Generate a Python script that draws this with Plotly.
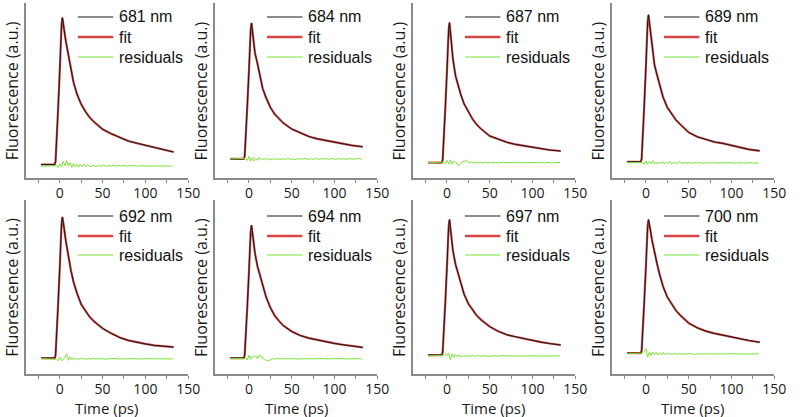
import plotly.graph_objects as go

# ---------------- data (peak-normalised) ----------------
labels = ["681 nm", "684 nm", "687 nm", "689 nm", "692 nm", "694 nm", "697 nm", "700 nm"]
legend_names = ["fit", "residuals"]

time_fit = [-22, -15, -10, -6, -5, -4, -2, 0, 1, 2, 3, 4, 5, 7, 10, 13, 16, 20, 25, 30,
            35, 40, 50, 60, 70, 80, 90, 100, 110, 120, 133]

fit_681 = [0, 0, 0, 0, 0.02, 0.12, 0.38, 0.65, 0.82, 0.95, 1.0, 0.97, 0.92, 0.84, 0.74, 0.64, 0.56, 0.48, 0.41, 0.36,
           0.32, 0.29, 0.24, 0.21, 0.185, 0.16, 0.145, 0.13, 0.115, 0.10, 0.085]
fit_684 = [0, 0, 0, 0, 0.02, 0.12, 0.38, 0.65, 0.82, 0.95, 1.0, 0.95, 0.88, 0.78, 0.70, 0.60, 0.52, 0.45, 0.38, 0.33,
           0.295, 0.265, 0.22, 0.19, 0.165, 0.148, 0.135, 0.122, 0.11, 0.10, 0.09]
fit_687 = [0, 0, 0, 0, 0.02, 0.12, 0.38, 0.65, 0.82, 0.95, 1.0, 0.94, 0.86, 0.74, 0.62, 0.55, 0.49, 0.42, 0.36, 0.31,
           0.27, 0.24, 0.19, 0.165, 0.145, 0.13, 0.12, 0.11, 0.10, 0.09, 0.083]
fit_689 = [0, 0, 0, 0, 0.02, 0.12, 0.38, 0.65, 0.82, 0.95, 1.0, 0.95, 0.88, 0.77, 0.66, 0.59, 0.52, 0.44, 0.37, 0.325,
           0.285, 0.255, 0.20, 0.17, 0.15, 0.135, 0.125, 0.11, 0.095, 0.085, 0.075]
fit_692 = [0, 0, 0, 0, 0.02, 0.12, 0.38, 0.65, 0.82, 0.95, 1.0, 0.97, 0.92, 0.83, 0.72, 0.62, 0.54, 0.46, 0.38, 0.33,
           0.29, 0.26, 0.21, 0.175, 0.145, 0.125, 0.11, 0.10, 0.09, 0.085, 0.078]
fit_694 = [0, 0, 0, 0, 0.02, 0.12, 0.38, 0.65, 0.82, 0.95, 1.0, 0.95, 0.89, 0.79, 0.69, 0.62, 0.55, 0.46, 0.38, 0.32,
           0.28, 0.245, 0.20, 0.17, 0.15, 0.135, 0.12, 0.11, 0.10, 0.09, 0.08]
fit_697 = [0, 0, 0, 0, 0.02, 0.12, 0.38, 0.65, 0.82, 0.95, 1.0, 0.95, 0.88, 0.77, 0.67, 0.60, 0.53, 0.45, 0.38, 0.335,
           0.29, 0.26, 0.21, 0.175, 0.15, 0.135, 0.12, 0.105, 0.095, 0.085, 0.074]
fit_700 = [0, 0, 0, 0, 0.02, 0.12, 0.38, 0.65, 0.82, 0.95, 1.0, 0.97, 0.93, 0.85, 0.75, 0.67, 0.59, 0.50, 0.42, 0.37,
           0.32, 0.285, 0.225, 0.19, 0.165, 0.148, 0.135, 0.12, 0.105, 0.095, 0.082]

time_res = [-22, -6, -4, -2, 0, 2, 4, 6, 8, 10, 12, 14, 16, 18, 20, 22, 24, 26, 28, 30,
            33, 36, 39, 42, 45, 48, 51, 54, 57, 60, 63, 66, 69, 72, 75, 78, 81, 84, 87, 90,
            93, 96, 99, 102, 105, 108, 111, 114, 117, 120, 123, 126, 129, 132]

res_681 = [-0.010, -0.010, -0.004, -0.022, 0.004, -0.016, 0.022, -0.008, 0.028, -0.012, 0.012, -0.020, 0.006, -0.016, 0.002, -0.018, 0.000, -0.014, 0.003, -0.016,
           -0.002, -0.015, -0.006, -0.014, -0.007, -0.012, -0.004, -0.013, -0.006, -0.011, -0.004, -0.012, -0.007, -0.010, -0.005, -0.013, -0.008, -0.011, -0.006, -0.012,
           -0.009, -0.010, -0.007, -0.013, -0.009, -0.011, -0.008, -0.012, -0.010, -0.011, -0.008, -0.013, -0.010, -0.011]
res_684 = [0.000, 0.000, 0.004, -0.012, 0.018, -0.016, 0.010, -0.014, 0.006, -0.010, 0.012, -0.006, 0.004, -0.008, 0.006, -0.004, 0.002, -0.006, 0.003, -0.004,
           0.002, -0.004, 0.001, -0.003, 0.004, -0.002, 0.001, -0.004, 0.003, -0.002, 0.000, 0.004, -0.003, 0.001, -0.002, 0.003, -0.003, 0.002, -0.001, 0.003,
           -0.004, 0.002, 0.000, -0.003, 0.004, -0.002, 0.001, -0.003, 0.002, 0.000, -0.002, 0.003, -0.001, 0.000]
res_687 = [0.000, 0.000, 0.003, -0.008, 0.016, -0.010, 0.020, -0.012, 0.010, 0.004, -0.014, -0.022, -0.004, 0.008, 0.006, 0.018, 0.010, -0.004, 0.006, -0.002,
           0.003, -0.003, 0.002, -0.002, 0.004, -0.001, 0.001, -0.003, 0.002, -0.002, 0.001, 0.003, -0.002, 0.000, -0.003, 0.002, -0.002, 0.003, -0.001, 0.001,
           -0.003, 0.002, 0.000, -0.002, 0.003, -0.001, 0.001, -0.002, 0.002, 0.000, -0.003, 0.002, -0.001, 0.000]
res_689 = [-0.006, -0.006, -0.004, -0.016, 0.006, -0.018, 0.002, -0.012, 0.008, -0.016, -0.002, -0.014, -0.004, -0.010, 0.000, -0.014, -0.002, -0.012, 0.004, -0.014,
           -0.004, -0.012, 0.002, -0.010, -0.006, -0.009, -0.005, -0.010, -0.006, -0.008, -0.005, -0.010, -0.007, -0.006, -0.009, -0.005, -0.008, -0.007, -0.009, -0.006,
           -0.008, -0.007, -0.006, -0.009, -0.007, -0.008, -0.006, -0.009, -0.007, -0.008, -0.006, -0.008, -0.007, -0.008]
res_692 = [-0.004, -0.004, -0.008, -0.018, 0.006, -0.020, -0.006, 0.004, 0.030, -0.016, 0.008, -0.014, 0.002, -0.010, -0.002, -0.012, 0.000, -0.008, -0.003, -0.009,
           -0.004, -0.008, -0.002, -0.007, -0.004, -0.006, -0.003, -0.008, -0.005, -0.004, -0.006, -0.003, -0.007, -0.005, -0.004, -0.007, -0.005, -0.006, -0.004, -0.006,
           -0.005, -0.007, -0.004, -0.006, -0.005, -0.006, -0.004, -0.007, -0.005, -0.006, -0.005, -0.006, -0.004, -0.006]
res_694 = [-0.004, -0.004, 0.002, -0.014, 0.020, -0.010, 0.014, 0.004, 0.018, -0.006, 0.022, 0.010, 0.002, -0.008, -0.018, -0.022, -0.016, -0.008, -0.004, -0.010,
           -0.002, -0.006, -0.004, -0.008, -0.003, -0.006, -0.004, -0.005, -0.007, -0.004, -0.005, -0.006, -0.003, -0.006, -0.005, -0.004, -0.007, -0.005, -0.004, -0.006,
           -0.005, -0.006, -0.004, -0.006, -0.005, -0.004, -0.006, -0.005, -0.006, -0.004, -0.006, -0.005, -0.005, -0.006]
res_697 = [-0.006, -0.006, -0.002, 0.012, -0.004, 0.016, -0.036, 0.008, -0.018, 0.006, -0.012, 0.002, -0.016, -0.004, -0.012, 0.000, -0.010, -0.004, -0.012, -0.002,
           -0.010, -0.004, -0.009, -0.005, -0.008, -0.006, -0.009, -0.005, -0.007, -0.008, -0.005, -0.008, -0.006, -0.007, -0.009, -0.006, -0.007, -0.005, -0.008, -0.007,
           -0.006, -0.008, -0.007, -0.006, -0.008, -0.006, -0.007, -0.008, -0.006, -0.007, -0.007, -0.006, -0.008, -0.007]
res_700 = [-0.004, -0.004, 0.000, 0.014, 0.034, -0.030, 0.010, -0.018, 0.008, -0.012, 0.006, -0.014, 0.004, -0.010, 0.006, -0.012, 0.002, -0.008, -0.002, -0.010,
           -0.002, -0.009, -0.003, -0.008, -0.004, -0.007, -0.003, -0.006, -0.008, -0.004, -0.006, -0.005, -0.007, -0.004, -0.006, -0.005, -0.007, -0.004, -0.006, -0.005,
           -0.006, -0.004, -0.007, -0.005, -0.006, -0.004, -0.006, -0.005, -0.006, -0.005, -0.004, -0.006, -0.005, -0.005]

x_tick_vals = [-25, 0, 25, 50, 75, 100, 125, 150]
x_tick_text = ["", "0", "", "50", "", "100", "", "150"]
x_title = "Time (ps)"
y_title = "Fluorescence (a.u.)"

fits = [fit_681, fit_684, fit_687, fit_689, fit_692, fit_694, fit_697, fit_700]
resids = [res_681, res_684, res_687, res_689, res_692, res_694, res_697, res_700]

# ---------------- layout geometry (pixels) ----------------
W, H = 802, 417
col_left = [26, 218, 419, 621]
plot_w = 165
rows = [(3, 178), (200, 374)]
y_ranges = [[-0.092, 1.10], [-0.14, 1.147], [-0.11, 1.14], [-0.11, 1.08],
            [-0.113, 1.12], [-0.12, 1.19], [-0.14, 1.145], [-0.156, 1.147]]
legend_rows = [(17, 37, 57), (216, 236, 255)]

AXIS_COLOR = "#8a8a8a"
FIT_COLOR = "rgb(214,70,70)"
DATA_COLOR = "#1a1a1a"
RES_COLOR = "rgb(120,228,50)"
TICK_FONT = dict(family="Open Sans, Lato, sans-serif", size=14, color="#1a1a1a")
TITLE_FONT = dict(family="Open Sans, Lato, sans-serif", size=16, color="#1a1a1a")
XTITLE_FONT = dict(family="Open Sans, Lato, sans-serif", size=15, color="#1a1a1a")
LEG_FONT = dict(family="Liberation Sans, Arial, sans-serif", size=16, color="#111111")

fig = go.Figure()
layout = {}
annotations = []
shapes = []

for i in range(8):
    r, c = divmod(i, 4)
    k = i + 1
    xa = "x" if k == 1 else f"x{k}"
    ya = "y" if k == 1 else f"y{k}"
    assert len(fits[i]) == len(time_fit)
    assert len(resids[i]) == len(time_res)

    fig.add_trace(go.Scatter(x=time_fit, y=fits[i], mode="lines", name="fit",
                             line=dict(color=FIT_COLOR, width=2.2),
                             xaxis=xa, yaxis=ya, showlegend=False))
    fig.add_trace(go.Scatter(x=time_fit, y=fits[i], mode="lines", name=labels[i],
                             line=dict(color=DATA_COLOR, width=1),
                             xaxis=xa, yaxis=ya, showlegend=False))
    fig.add_trace(go.Scatter(x=time_res, y=resids[i], mode="lines", name="residuals",
                             line=dict(color=RES_COLOR, width=1),
                             xaxis=xa, yaxis=ya, showlegend=False))

    x0 = col_left[c] / W
    x1 = (col_left[c] + plot_w) / W
    ytop, ybot = rows[r]
    xkey = "xaxis" if k == 1 else f"xaxis{k}"
    ykey = "yaxis" if k == 1 else f"yaxis{k}"
    layout[xkey] = dict(domain=[x0, x1], anchor=ya, range=[-40, 150],
                        showline=True, linecolor=AXIS_COLOR, linewidth=1.5,
                        ticks="outside", ticklen=3, tickcolor=AXIS_COLOR, tickwidth=1,
                        tickvals=x_tick_vals, ticktext=x_tick_text, ticklabelstandoff=-2,
                        tickfont=TICK_FONT, showgrid=False, zeroline=False)
    layout[ykey] = dict(domain=[1 - ybot / H, 1 - ytop / H], anchor=xa, range=y_ranges[i],
                        showline=True, linecolor=AXIS_COLOR, linewidth=1.5,
                        showticklabels=False, ticks="", showgrid=False, zeroline=False)
    annotations.append(dict(text=y_title, textangle=-90,
                            x=(col_left[c] - 14) / W, y=1 - (ytop + ybot) / 2 / H,
                            xref="paper", yref="paper", xanchor="center", yanchor="middle",
                            showarrow=False, font=TITLE_FONT))
    if r == 1:
        annotations.append(dict(text=x_title, x=(col_left[c] + plot_w / 2) / W, y=1 - 407.5 / H,
                                xref="paper", yref="paper", xanchor="center", yanchor="middle",
                                showarrow=False, font=XTITLE_FONT))

    # legend (drawn per panel)
    entries = [(labels[i], DATA_COLOR, 1.2), (legend_names[0], FIT_COLOR, 2.5),
               (legend_names[1], RES_COLOR, 1.2)]
    for (txt, col, lw), ypx in zip(entries, legend_rows[r]):
        shapes.append(dict(type="line", xref="paper", yref="paper",
                           x0=(col_left[c] + 53) / W, x1=(col_left[c] + 89) / W,
                           y0=1 - ypx / H, y1=1 - ypx / H,
                           line=dict(color=col, width=lw)))
        annotations.append(dict(text=txt, x=(col_left[c] + 93) / W, y=1 - ypx / H,
                                xref="paper", yref="paper", xanchor="left", yanchor="middle",
                                showarrow=False, font=LEG_FONT))

fig.update_layout(width=W, height=H, margin=dict(l=0, r=0, t=0, b=0),
                  paper_bgcolor="white", plot_bgcolor="white",
                  annotations=annotations, shapes=shapes, **layout)

fig.write_html("out.html", config={"displayModeBar": False},
               post_script="document.body.style.margin='0px';")
